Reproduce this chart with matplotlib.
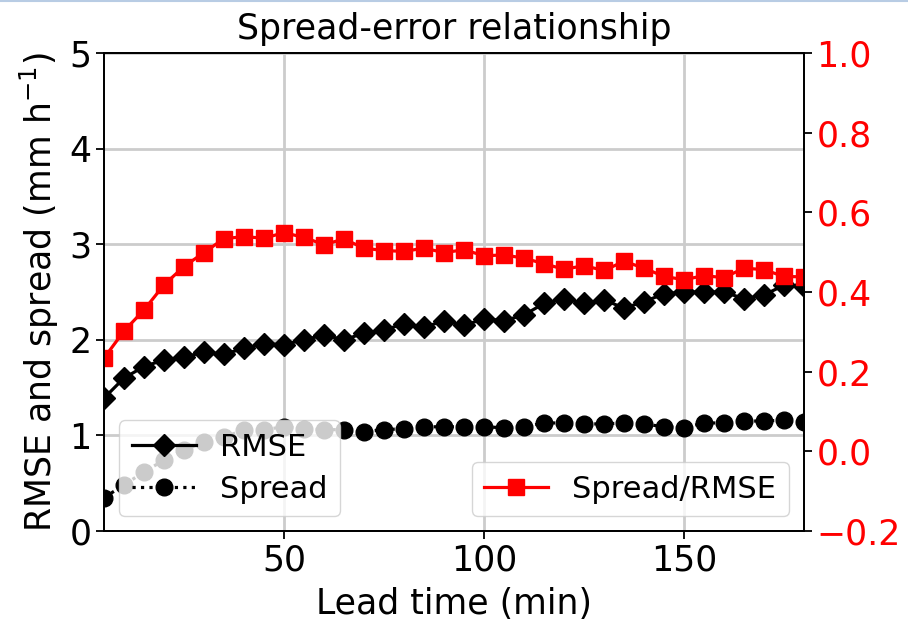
import matplotlib
matplotlib.use("Agg")
import matplotlib.pyplot as plt
from matplotlib.lines import Line2D

# Lead times (minutes)
lead_time = list(range(5, 181, 5))

# Ensemble verification scores
rmse = [1.39, 1.60, 1.72, 1.79, 1.82, 1.87, 1.85, 1.91, 1.96, 1.95,
        2.00, 2.05, 2.00, 2.07, 2.10, 2.17, 2.13, 2.20, 2.15, 2.22,
        2.20, 2.26, 2.38, 2.43, 2.38, 2.42, 2.33, 2.40, 2.48, 2.50,
        2.50, 2.50, 2.43, 2.47, 2.57, 2.56]
spread = [0.35, 0.48, 0.62, 0.74, 0.85, 0.93, 0.98, 1.06, 1.06, 1.09,
          1.07, 1.06, 1.06, 1.04, 1.06, 1.07, 1.09, 1.09, 1.09, 1.09,
          1.08, 1.09, 1.13, 1.13, 1.12, 1.12, 1.13, 1.12, 1.09, 1.08,
          1.13, 1.13, 1.15, 1.15, 1.16, 1.14]
ratio = [0.234, 0.302, 0.355, 0.418, 0.464, 0.499, 0.534, 0.539, 0.535, 0.549,
         0.537, 0.519, 0.533, 0.510, 0.504, 0.502, 0.510, 0.499, 0.506, 0.491,
         0.493, 0.485, 0.471, 0.457, 0.466, 0.454, 0.477, 0.460, 0.439, 0.431,
         0.441, 0.436, 0.460, 0.456, 0.439, 0.438]

FS = 25
LEG_FS = 22

plt.rcParams.update({
    "axes.linewidth": 1.3,
    "xtick.major.size": 5.5,
    "ytick.major.size": 5.5,
    "xtick.major.width": 1.3,
    "ytick.major.width": 1.3,
})

fig = plt.figure(figsize=(9.08, 6.26), dpi=100)
ax = fig.add_subplot(111)
fig.subplots_adjust(left=104/908, right=804/908, top=1-53/626, bottom=1-531/626)

ax.plot(lead_time, rmse, color="black", marker="D", markersize=11,
        linewidth=2.3, label="RMSE")
ax.plot(lead_time, spread, color="black", marker="o", markersize=12,
        linewidth=2.3, linestyle=":", label="Spread")
ax.set_xlim(5, 180)
ax.set_ylim(0, 5)
ax.set_xticks([50, 100, 150])
ax.set_yticks([0, 1, 2, 3, 4, 5])
ax.grid(True, color="#cccccc", linewidth=2)
ax.tick_params(labelsize=FS)
ax.set_xlabel("Lead time (min)", fontsize=FS, labelpad=7)
ax.set_ylabel("RMSE and spread (mm h$^{-1}$)", fontsize=FS, labelpad=6)
ax.set_title("Spread-error relationship", fontsize=FS, pad=10)
ax.legend(loc="lower left", fontsize=LEG_FS, handlelength=2.1,
          borderpad=0.4, labelspacing=0.42, handletextpad=0.8,
          borderaxespad=0.5)

ax2 = ax.twinx()
ax2.plot(lead_time, ratio, color="red", marker="s", markersize=11.5,
         linewidth=2.3, label="Spread/RMSE")
ax2.set_ylim(-0.2, 1.0)
ax2.set_yticks([-0.2, 0.0, 0.2, 0.4, 0.6, 0.8, 1.0])
ax2.tick_params(axis="y", labelsize=FS, labelcolor="red")
ax2.legend(loc="lower right", fontsize=LEG_FS, handlelength=2.1,
           borderpad=0.4, handletextpad=0.8, borderaxespad=0.5)

fig.add_artist(Line2D([0, 1], [0.999, 0.999], transform=fig.transFigure,
                      color="#b8cce4", linewidth=1.5))

fig.savefig("out.png", dpi=100)
